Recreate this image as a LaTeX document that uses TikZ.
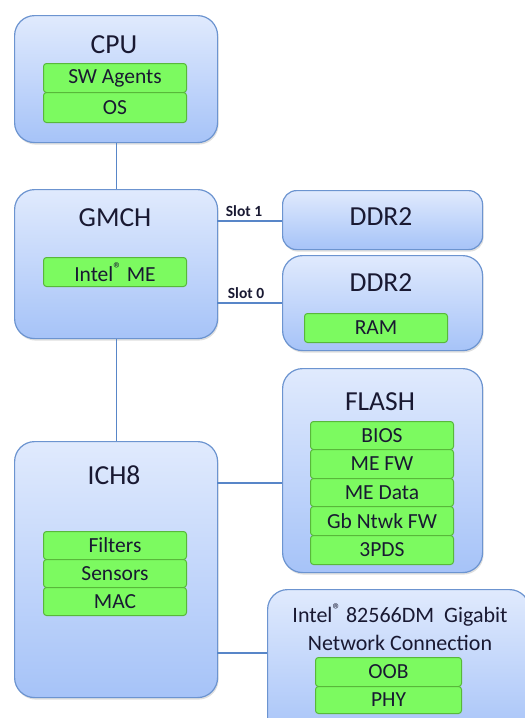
\documentclass[tikz,border=0pt]{standalone}
\usepackage{fontspec}
\setmainfont{Carlito}
\usetikzlibrary{shadows}
\definecolor{boxtop}{RGB}{224,234,253}
\definecolor{boxbot}{RGB}{166,195,248}
\definecolor{boxedge}{RGB}{108,148,208}
\definecolor{grfill}{RGB}{124,250,96}
\definecolor{gredge}{RGB}{88,184,58}
\definecolor{wirecol}{RGB}{88,134,200}
\definecolor{txt}{RGB}{25,25,50}
\newcommand{\regmark}{\raisebox{0.3em}{\fontsize{17}{17}\selectfont ®}}
\tikzset{
  bigbox/.style={draw=boxedge, line width=1.2pt, top color=boxtop, bottom color=boxbot,
    rounded corners=20pt, anchor=north west, inner sep=0pt,
    drop shadow={shadow xshift=1pt, shadow yshift=-2pt, opacity=0.25}},
  smallbox/.style={bigbox, rounded corners=14pt},
  title/.style={font=\fontsize{27.5}{28}\selectfont, text=txt, inner sep=0pt},
  gbox/.style={draw=gredge, line width=1pt, fill=grfill, rounded corners=3pt,
    anchor=north west, inner sep=0pt, text=txt, font=\fontsize{21.5}{22}\selectfont},
  wire/.style={draw=wirecol, line width=1.2pt},
  slotlbl/.style={font=\bfseries\fontsize{15.5}{18}\selectfont, text=txt, inner sep=0pt}
}
\begin{document}
\begin{tikzpicture}[x=1pt,y=-1pt]
\useasboundingbox (0,0) rectangle (525,718);

% big boxes
\node[bigbox, minimum width=203pt, minimum height=127pt] (cpu) at (14,15) {};
\node[bigbox, minimum width=203pt, minimum height=149pt] (gmch) at (14,189) {};
\node[smallbox, minimum width=200pt, minimum height=59pt] (ddra) at (282,190) {};
\node[bigbox, minimum width=200pt, minimum height=95pt] (ddrb) at (282,255) {};
\node[bigbox, minimum width=200pt, minimum height=204pt] (flash) at (282,368) {};
\node[bigbox, minimum width=203pt, minimum height=256pt] (ich) at (14,441) {};
\node[bigbox, minimum width=262pt, minimum height=150pt] (nic) at (267,589) {};

% titles
\node[title] (tcpu) at (114,45) {CPU};
\node[title] (tgmch) at (115,218) {GMCH};
\node[title] (tddra) at (381,217) {DDR2};
\node[title] (tddrb) at (381,283) {DDR2};
\node[title] (tflash) at (380,402) {FLASH};
\node[title] (tich) at (114,475) {ICH8};
\node[title, font=\fontsize{22}{28}\selectfont, align=center] (tnic) at (400,627)
  {Intel\regmark{} 82566DM\ \ Gigabit\\Network Connection};

% green boxes
\node[gbox, minimum width=143pt, minimum height=29pt] (sw) at (43,63) {SW Agents};
\node[gbox, minimum width=143pt, minimum height=30pt] (os) at (43,92) {OS};
\node[gbox, minimum width=143pt, minimum height=29pt] (me) at (43,257) {Intel\regmark{} ME};
\node[gbox, minimum width=143pt, minimum height=29pt] (ram) at (304,313) {RAM};
\node[gbox, minimum width=143pt, minimum height=28pt] (bios) at (310,421) {BIOS};
\node[gbox, minimum width=143pt, minimum height=29pt] (mefw) at (310,449) {ME FW};
\node[gbox, minimum width=143pt, minimum height=28pt] (medata) at (310,478) {ME Data};
\node[gbox, minimum width=143pt, minimum height=29pt] (gbfw) at (310,506) {Gb Ntwk FW};
\node[gbox, minimum width=143pt, minimum height=29pt] (pds) at (310,535) {3PDS};
\node[gbox, minimum width=143pt, minimum height=28pt] (filt) at (43,531) {Filters};
\node[gbox, minimum width=143pt, minimum height=28pt] (sens) at (43,559) {Sensors};
\node[gbox, minimum width=143pt, minimum height=28pt] (mac) at (43,587) {MAC};
\node[gbox, minimum width=146pt, minimum height=29pt] (oob) at (315,657) {OOB};
\node[gbox, minimum width=146pt, minimum height=27pt] (phy) at (315,686) {PHY};

% connectors
\draw[wire] (cpu.south) -- (gmch.north);
\draw[wire] (gmch.south) -- (ich.north);
\coordinate (s1) at (217,221);
\coordinate (s0) at (217,303);
\draw[wire] (s1) -- (s1 -| ddra.west);
\draw[wire] (s0) -- (s0 -| ddrb.west);
\coordinate (f1) at (217,483);
\coordinate (n1) at (217,653);
\draw[wire] (f1) -- (f1 -| flash.west);
\draw[wire] (n1) -- (n1 -| nic.west);

% slot labels
\node[slotlbl] (l1) at (244,211) {Slot 1};
\node[slotlbl] (l0) at (246,293) {Slot 0};
\end{tikzpicture}
\end{document}
